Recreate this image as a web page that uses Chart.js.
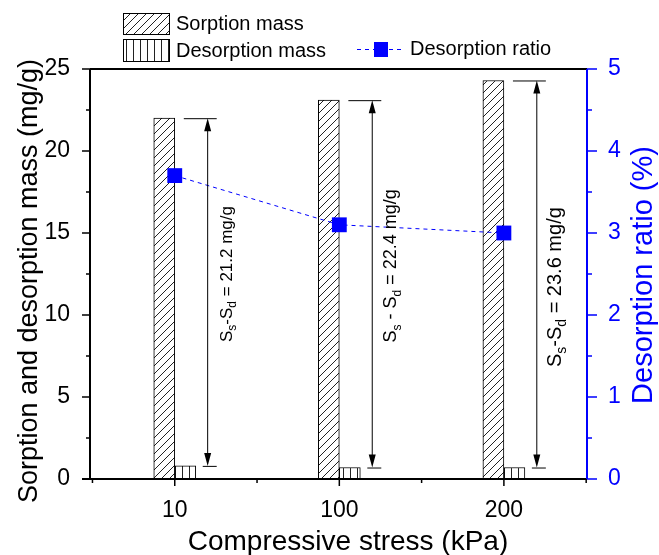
<!DOCTYPE html>
<html>
<head>
<meta charset="utf-8">
<script src="https://cdn.jsdelivr.net/npm/chart.js@4"></script>
<style>
  html, body { margin: 0; padding: 0; background: #fff; }
  #wrap { width: 659px; height: 555px; }
</style>
</head>
<body>
<div id="wrap"><canvas id="chart" width="659" height="555"></canvas></div>
<script>
// ---- data ----
const stressLabels = ['10', '100', '200'];     // kPa, one slot per category
const stressIndex = [0, 1, 2];
const sorptionMass = [22.0, 23.1, 24.3];        // mg/g
const desorptionMass = [0.8, 0.7, 0.7];         // mg/g
const desorptionRatio = [3.7, 3.1, 3.0];        // %
const diffValues = ['21.2', '22.4', '23.6'];    // Ss - Sd, mg/g
const diffSpaced = [false, true, false];        // "Ss - Sd" written with spaces
const diffLabelAt = [12.5, 13.0, 11.7];         // label centre, mg/g axis
const massTicks = [0, 5, 10, 15, 20, 25];
const ratioTicks = [0, 1, 2, 3, 4, 5];

const FONT = '"Liberation Sans", Arial, sans-serif';
const BLUE = '#0000ff';
const noteSize = [17, 18, 20];   // font size of each rotated note

const canvas = document.getElementById('chart');
const ctx = canvas.getContext('2d');

// hatch fills
function makePattern(kind) {
  const c = document.createElement('canvas');
  const n = kind === 'diag' ? 8 : 7;
  c.width = n; c.height = n;
  const g = c.getContext('2d');
  g.fillStyle = '#fff';
  g.fillRect(0, 0, n, n);
  g.strokeStyle = '#222';
  g.lineWidth = 1;
  g.beginPath();
  if (kind === 'diag') {
    g.moveTo(-1, n + 1); g.lineTo(n + 1, -1);
    g.moveTo(-1, 1); g.lineTo(1, -1);
    g.moveTo(n - 1, n + 1); g.lineTo(n + 1, n - 1);
  } else {
    g.moveTo(0.5, 0); g.lineTo(0.5, n);
  }
  g.stroke();
  return ctx.createPattern(c, 'repeat');
}
const diagFill = makePattern('diag');
const vertFill = makePattern('vert');

/* =======================
   frame, ticks, notes, legend
======================= */
const decor = {
  id: 'decor',
  afterDatasetsDraw(chart) {
    const { ctx, chartArea: a, scales } = chart;
    const x = scales.x, y = scales.y, y2 = scales.y2;
    ctx.save();

    // dimension arrows  Ss - Sd
    stressIndex.forEach((xi, i) => {
      const ax = x.getPixelForValue(xi + 0.2);
      const top = y.getPixelForValue(sorptionMass[i]);
      const bot = y.getPixelForValue(desorptionMass[i]);
      ctx.strokeStyle = '#000';
      ctx.lineWidth = 1;
      ctx.beginPath();
      ctx.moveTo(x.getPixelForValue(xi + 0.055), top + 0.5);
      ctx.lineTo(x.getPixelForValue(xi + 0.255), top + 0.5);
      ctx.moveTo(x.getPixelForValue(xi + 0.17), bot + 0.5);
      ctx.lineTo(x.getPixelForValue(xi + 0.255), bot + 0.5);
      ctx.moveTo(ax, top + 10);
      ctx.lineTo(ax, bot - 10);
      ctx.stroke();
      ctx.fillStyle = '#000';
      ctx.beginPath();
      ctx.moveTo(ax, top); ctx.lineTo(ax - 3.5, top + 13); ctx.lineTo(ax + 3.5, top + 13);
      ctx.closePath();
      ctx.moveTo(ax, bot); ctx.lineTo(ax - 3.5, bot - 13); ctx.lineTo(ax + 3.5, bot - 13);
      ctx.closePath();
      ctx.fill();

      // rotated label with subscripts
      const sz = noteSize[i], sub = Math.round(sz * 0.68);
      const runs = [
        ['S', sz, 0], ['s', sub, sz * 0.27],
        [diffSpaced[i] ? ' - ' : '-', sz, 0],
        ['S', sz, 0], ['d', sub, sz * 0.27],
        [' = ' + diffValues[i] + ' mg/g', sz, 0]
      ];
      let total = 0;
      runs.forEach(r => { ctx.font = r[1] + 'px ' + FONT; total += ctx.measureText(r[0]).width; });
      ctx.save();
      ctx.translate(ax + 24, y.getPixelForValue(diffLabelAt[i]));
      ctx.rotate(-Math.PI / 2);
      ctx.textBaseline = 'alphabetic';
      ctx.textAlign = 'left';
      let px = -total / 2;
      runs.forEach(r => {
        ctx.font = r[1] + 'px ' + FONT;
        ctx.fillText(r[0], px, r[2]);
        px += ctx.measureText(r[0]).width;
      });
      ctx.restore();
    });

    // frame
    ctx.lineWidth = 2;
    ctx.strokeStyle = '#000';
    ctx.beginPath();
    ctx.moveTo(a.left, a.top); ctx.lineTo(a.right, a.top);
    ctx.moveTo(a.left, a.top); ctx.lineTo(a.left, a.bottom);
    ctx.moveTo(a.left - 8, a.bottom); ctx.lineTo(a.right, a.bottom);
    ctx.stroke();

    // left ticks
    ctx.lineWidth = 1.5;
    ctx.beginPath();
    massTicks.forEach((v, k) => {
      const py = y.getPixelForValue(v);
      ctx.moveTo(a.left - 8, py); ctx.lineTo(a.left, py);
      if (k < massTicks.length - 1) {
        const pm = y.getPixelForValue(v + 2.5);
        ctx.moveTo(a.left - 4, pm); ctx.lineTo(a.left, pm);
      }
    });
    // bottom ticks
    stressIndex.forEach(v => {
      const p = x.getPixelForValue(v);
      ctx.moveTo(p, a.bottom); ctx.lineTo(p, a.bottom + 7);
    });
    [-0.5, 0.5, 1.5, 2.5].forEach(v => {
      const p = x.getPixelForValue(v);
      ctx.moveTo(p, a.bottom); ctx.lineTo(p, a.bottom + 4);
    });
    ctx.stroke();

    // right axis in blue
    ctx.strokeStyle = BLUE;
    ctx.lineWidth = 2;
    ctx.beginPath();
    ctx.moveTo(a.right, a.top); ctx.lineTo(a.right, a.bottom);
    ctx.stroke();
    ctx.lineWidth = 1.5;
    ctx.beginPath();
    ratioTicks.forEach((v, k) => {
      const py = y2.getPixelForValue(v);
      ctx.moveTo(a.right, py); ctx.lineTo(a.right + 10, py);
      if (k < ratioTicks.length - 1) {
        const pm = y2.getPixelForValue(v + 0.5);
        ctx.moveTo(a.right, pm); ctx.lineTo(a.right + 5, pm);
      }
    });
    ctx.stroke();

    // axis titles
    ctx.fillStyle = '#000';
    ctx.font = '28px ' + FONT;
    ctx.textAlign = 'center';
    ctx.textBaseline = 'alphabetic';
    ctx.fillText('Compressive stress (kPa)', 348, 550);

    ctx.save();
    ctx.translate(37, 281);
    ctx.rotate(-Math.PI / 2);
    ctx.font = '27px ' + FONT;
    ctx.fillText('Sorption and desorption mass (mg/g)', 0, 0);
    ctx.restore();

    ctx.save();
    ctx.translate(652, 275);
    ctx.rotate(-Math.PI / 2);
    ctx.fillStyle = BLUE;
    ctx.font = '29px ' + FONT;
    ctx.fillText('Desorption ratio (%)', 0, 0);
    ctx.restore();

    // legend
    ctx.lineWidth = 1;
    ctx.strokeStyle = '#000';
    ctx.fillStyle = diagFill;
    ctx.fillRect(123, 13, 46, 21);
    ctx.strokeRect(123.5, 13.5, 46, 21);
    ctx.fillStyle = vertFill;
    ctx.fillRect(123, 39, 46, 22);
    ctx.strokeRect(123.5, 39.5, 46, 22);
    ctx.fillStyle = '#000';
    ctx.font = '20px ' + FONT;
    ctx.textAlign = 'left';
    ctx.textBaseline = 'middle';
    ctx.fillText('Sorption mass', 176, 24);
    ctx.fillText('Desorption mass', 176, 51);
    ctx.fillText('Desorption ratio', 410, 49);
    ctx.strokeStyle = BLUE;
    ctx.setLineDash([4, 4]);
    ctx.beginPath();
    ctx.moveTo(357, 49.5); ctx.lineTo(405, 49.5);
    ctx.stroke();
    ctx.setLineDash([]);
    ctx.fillStyle = BLUE;
    ctx.fillRect(374, 42, 14, 15);

    ctx.restore();
  }
};

const tickFont = { family: FONT, size: 23 };

new Chart(ctx, {
  type: 'bar',
  data: {
    datasets: [
      {
        type: 'line',
        label: 'Desorption ratio',
        data: stressIndex.map((v, i) => ({ x: v, y: desorptionRatio[i] })),
        yAxisID: 'y2',
        order: 0,
        borderColor: BLUE,
        borderWidth: 1,
        borderDash: [4, 4],
        pointStyle: 'rect',
        pointRadius: 10.5,
        pointBackgroundColor: BLUE,
        pointBorderWidth: 0,
        fill: false,
        tension: 0
      },
      {
        label: 'Sorption mass',
        data: stressIndex.map((v, i) => ({ x: v, y: sorptionMass[i] })),
        yAxisID: 'y',
        order: 1,
        backgroundColor: diagFill,
        borderColor: '#000',
        borderWidth: 1,
        barThickness: 21
      },
      {
        label: 'Desorption mass',
        data: stressIndex.map((v, i) => ({ x: v, y: desorptionMass[i] })),
        yAxisID: 'y',
        order: 1,
        backgroundColor: vertFill,
        borderColor: '#000',
        borderWidth: 1,
        barThickness: 21
      }
    ]
  },
  options: {
    responsive: false,
    animation: false,
    events: [],
    layout: { padding: { top: 69 } },
    plugins: { legend: { display: false }, tooltip: { enabled: false } },
    scales: {
      x: {
        type: 'linear',
        min: -0.515,
        max: 2.505,
        offset: false,
        afterBuildTicks: s => { s.ticks = stressIndex.map(v => ({ value: v })); },
        afterFit: s => { s.height = 76; },
        grid: { display: false },
        border: { display: false },
        ticks: {
          callback: v => stressLabels[v] ?? '',
          autoSkip: false,
          maxRotation: 0,
          padding: 10,
          color: '#000',
          font: tickFont
        }
      },
      y: {
        position: 'left',
        min: 0,
        max: 25,
        afterFit: s => { s.width = 90; },
        grid: { display: false },
        border: { display: false },
        ticks: { stepSize: 5, padding: 12, color: '#000', font: tickFont }
      },
      y2: {
        position: 'right',
        min: 0,
        max: 5,
        afterFit: s => { s.width = 72; },
        grid: { display: false },
        border: { display: false },
        ticks: { stepSize: 1, padding: 13, color: BLUE, font: tickFont }
      }
    }
  },
  plugins: [decor]
});
</script>
</body>
</html>
